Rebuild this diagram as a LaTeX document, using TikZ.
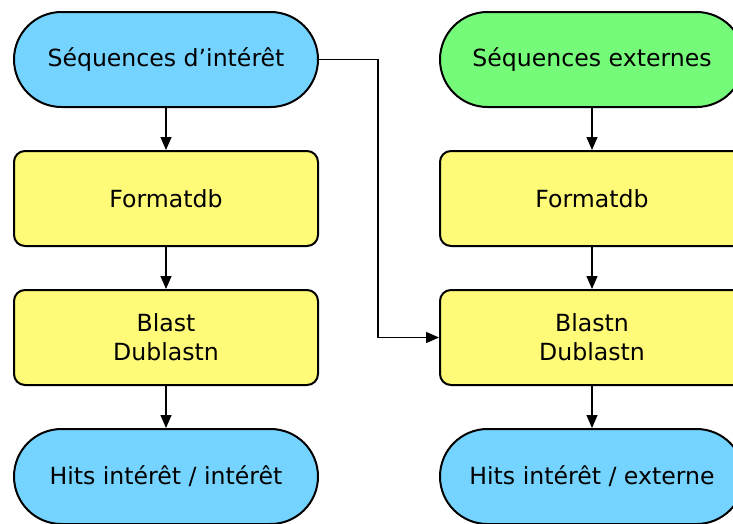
\documentclass[tikz,border=0pt]{standalone}
\usepackage{fontspec}
\setmainfont{DejaVu Sans}
\usetikzlibrary{arrows.meta}
\definecolor{cblue}{RGB}{117,211,255}
\definecolor{cgreen}{RGB}{117,250,122}
\definecolor{cyellow}{RGB}{255,250,120}
\begin{document}
\begin{tikzpicture}[x=1pt,y=1pt,
  base/.style={draw=black, line width=2pt, minimum width=304pt, minimum height=95pt, inner sep=0pt, align=center, font=\fontsize{23.6}{29}\selectfont},
  term/.style={base, rounded corners=47.5pt},
  proc/.style={base, rounded corners=11pt, fill=cyellow},
  conn/.style={line width=1.2pt, -{Triangle[length=13pt,width=11pt]}}]
\useasboundingbox (0,0) rectangle (733,-523);
\clip (0,0) rectangle (733,-523);
\node[term, fill=cblue] (s1) at (166,-59.5) {Séquences d’intérêt};
\node[proc] (f1) at (166,-198.5) {Formatdb};
\node[proc] (b1) at (166,-337.5) {Blast\\Dublastn};
\node[term, fill=cblue] (h1) at (166,-476.5) {Hits intérêt / intérêt};
\node[term, fill=cgreen] (s2) at (592,-59.5) {Séquences externes};
\node[proc] (f2) at (592,-198.5) {Formatdb};
\node[proc] (b2) at (592,-337.5) {Blastn\\Dublastn};
\node[term, fill=cblue] (h2) at (592,-476.5) {Hits intérêt / externe};
\draw[conn] (s1) -- (f1);
\draw[conn] (f1) -- (b1);
\draw[conn] (b1) -- (h1);
\draw[conn] (s2) -- (f2);
\draw[conn] (f2) -- (b2);
\draw[conn] (b2) -- (h2);
\coordinate (turn) at (378,-59.5);
\draw[conn] (s1.east) -- (turn) |- (b2.west);
\end{tikzpicture}
\end{document}
